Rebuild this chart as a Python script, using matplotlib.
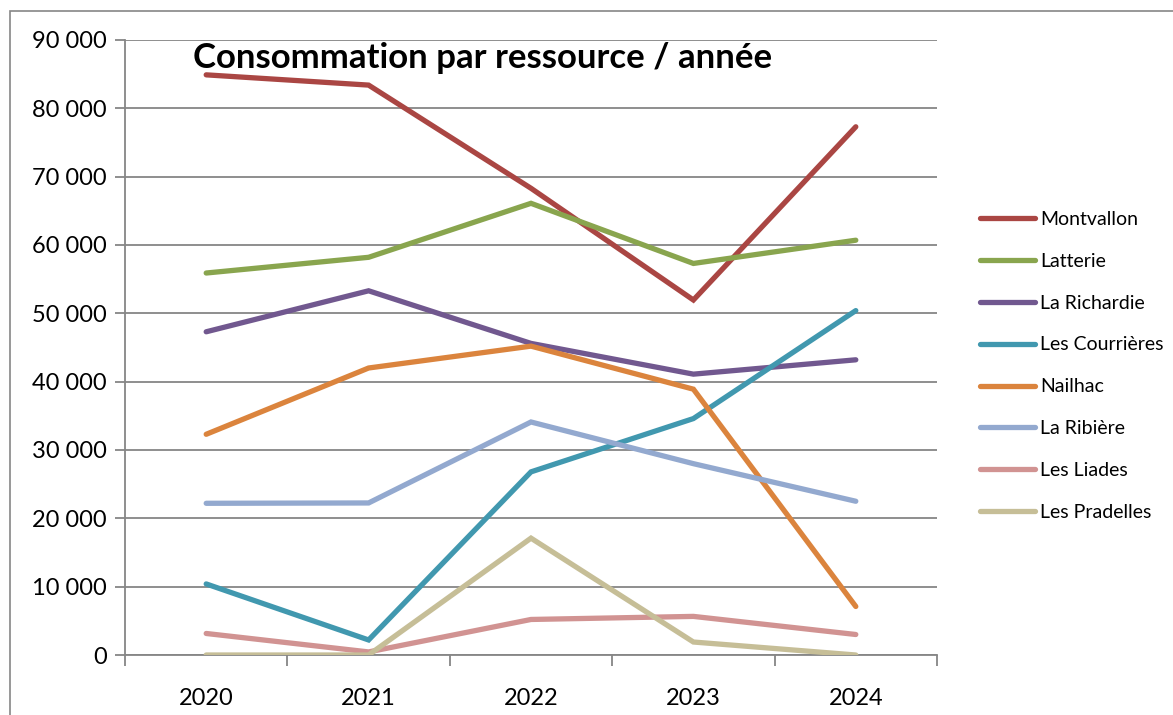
"""
Consommation par ressource / année - courbes par site
"""

import matplotlib.pyplot as plt
from matplotlib.patches import Rectangle
from matplotlib.ticker import FuncFormatter

years = ['2020', '2021', '2022', '2023', '2024']

montvallon = [84900, 83400, 68300, 51950, 77300]
latterie = [55900, 58200, 66100, 57300, 60700]
la_richardie = [47300, 53300, 45600, 41100, 43200]
les_courrieres = [10400, 2200, 26800, 34600, 50400]
nailhac = [32300, 42000, 45200, 38900, 7100]
la_ribiere = [22200, 22250, 34100, 28000, 22500]
les_liades = [3150, 450, 5200, 5650, 3000]
les_pradelles = [0, 0, 17100, 1900, 0]

series = [
    ('Montvallon', montvallon, '#AA4643'),
    ('Latterie', latterie, '#89A54E'),
    ('La Richardie', la_richardie, '#71588F'),
    ('Les Courrières', les_courrieres, '#4198AF'),
    ('Nailhac', nailhac, '#DB843D'),
    ('La Ribière', la_ribiere, '#93A9CF'),
    ('Les Liades', les_liades, '#D19392'),
    ('Les Pradelles', les_pradelles, '#C6BE97'),
]

plt.rcParams['font.family'] = ['Lato', 'DejaVu Sans']

fig = plt.figure(figsize=(11.73, 7.15), dpi=100)
W, H = 1173, 715
ax = fig.add_axes([125 / W, 1 - 655 / H, (937 - 125) / W, (655 - 40) / H])

# cadre extérieur du graphique
fig.patches.append(Rectangle((10 / W, -0.1), 1.2, 1 - 11 / H + 0.1,
                             transform=fig.transFigure, fill=False,
                             edgecolor='#868686', linewidth=1.2))

x = list(range(len(years)))
for name, vals, color in series:
    ax.plot(x, vals, color=color, linewidth=3.8, label=name,
            solid_capstyle='round', solid_joinstyle='miter', zorder=3)

ax.set_xlim(-0.5, len(years) - 0.5)
ax.set_ylim(0, 90000)
ax.set_yticks(range(0, 90001, 10000))
ax.yaxis.set_major_formatter(FuncFormatter(lambda v, p: f"{int(v):,}".replace(',', ' ')))
ax.grid(axis='y', color='#868686', linewidth=1.3, zorder=1)

ax.set_xticks(x)
ax.set_xticklabels(years)
ax.set_xticks([i - 0.5 for i in range(len(years) + 1)], minor=True)
ax.tick_params(axis='x', which='major', length=0, pad=24, labelsize=17)
ax.tick_params(axis='x', which='minor', length=8, width=1.3, color='#868686')
ax.tick_params(axis='y', length=7, width=1.3, color='#868686', labelsize=17, pad=6)

for s in ['top', 'right']:
    ax.spines[s].set_visible(False)
for s in ['left', 'bottom']:
    ax.spines[s].set_color('#868686')
    ax.spines[s].set_linewidth(1.3)

fig.text(193 / W, 1 - 58 / H, 'Consommation par ressource / année',
         fontsize=25, fontweight='bold', va='center', ha='left')

ax.legend(loc='upper left', bbox_to_anchor=(972 / W, 1 - 203 / H),
          bbox_transform=fig.transFigure, frameon=False, fontsize=14,
          handlelength=2.85, handletextpad=0.25, labelspacing=1.28,
          borderaxespad=0)

plt.savefig('out.png', dpi=100)
